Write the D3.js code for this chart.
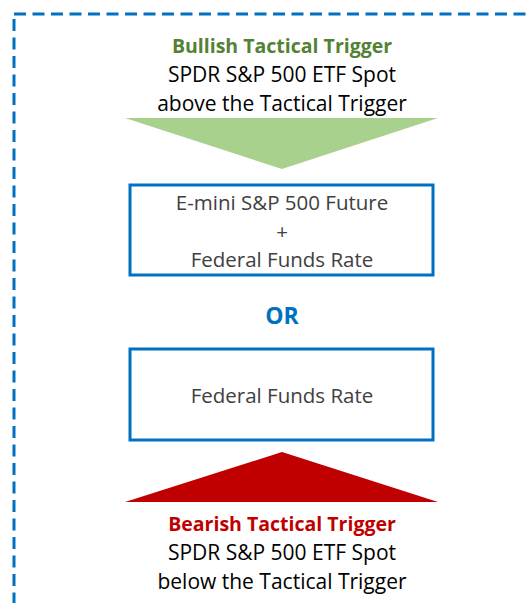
<!DOCTYPE html>
<html>
<head>
<meta charset="utf-8">
<script src="https://cdn.jsdelivr.net/npm/d3@7"></script>
<style>
  body { margin: 0; background: #fff; }
  svg { display: block; }
  text { font-family: "Open Sans", "Noto Sans", sans-serif; }
</style>
</head>
<body>
<svg></svg>
<script>
const width = 531;
const height = 603;

// texts of the diagram
const bullTitle = "Bullish Tactical Trigger";
const bullLines = ["SPDR S&P 500 ETF Spot", "above the Tactical Trigger"];
const box1Lines = ["E-mini S&P 500 Future", "+", "Federal Funds Rate"];
const orLabel = "OR";
const box2Lines = ["Federal Funds Rate"];
const bearTitle = "Bearish Tactical Trigger";
const bearLines = ["SPDR S&P 500 ETF Spot", "below the Tactical Trigger"];

const blue = "#0070C0";
const green = "#548235";
const red = "#C00000";

let svg = d3.select("svg")
    .attr("width", width)
    .attr("height", height);

// dashed frame (right and bottom edges run off the picture)
svg.append("rect")
    .attr("x", 14)
    .attr("y", 14)
    .attr("width", width + 20)
    .attr("height", height + 20)
    .attr("fill", "none")
    .attr("stroke", blue)
    .attr("stroke-width", 3)
    .attr("stroke-dasharray", "12,6.5");

const cx = 282;

// block of text lines, title in bold colour
function textBlock(title, titleColor, lines, y0, step) {
    let g = svg.append("g");
    let all = [title].concat(lines);
    g.selectAll("text")
        .data(all)
        .enter()
        .append("text")
        .attr("x", cx)
        .attr("y", (d, i) => y0 + i * step)
        .attr("text-anchor", "middle")
        .attr("font-size", (d, i) => i === 0 ? 19.5 : 21)
        .attr("font-weight", (d, i) => i === 0 ? "bold" : "normal")
        .attr("fill", (d, i) => i === 0 ? titleColor : "#000")
        .text(d => d);
}

textBlock(bullTitle, green, bullLines, 53, 29);

// green arrow pointing down
svg.append("path")
    .attr("d", `M125,118 L438,118 L${cx},169 Z`)
    .attr("fill", "#A9D18E");

// boxes
function box(y, h, lines, y0, step) {
    svg.append("rect")
        .attr("x", 130)
        .attr("y", y)
        .attr("width", 303)
        .attr("height", h)
        .attr("fill", "#fff")
        .attr("stroke", blue)
        .attr("stroke-width", 3);
    svg.append("g").selectAll("text")
        .data(lines)
        .enter()
        .append("text")
        .attr("x", cx)
        .attr("y", (d, i) => y0 + i * step)
        .attr("text-anchor", "middle")
        .attr("font-size", 20.5)
        .attr("fill", "#404040")
        .text(d => d);
}

box(185, 90, box1Lines, 210, 28.5);

svg.append("text")
    .attr("x", cx)
    .attr("y", 324)
    .attr("text-anchor", "middle")
    .attr("font-size", 23)
    .attr("font-weight", "bold")
    .attr("fill", blue)
    .text(orLabel);

box(349, 91, box2Lines, 403, 0);

// red arrow pointing up
svg.append("path")
    .attr("d", `M125,502 L438,502 L${cx},452 Z`)
    .attr("fill", red);

textBlock(bearTitle, red, bearLines, 531, 29);
</script>
</body>
</html>
